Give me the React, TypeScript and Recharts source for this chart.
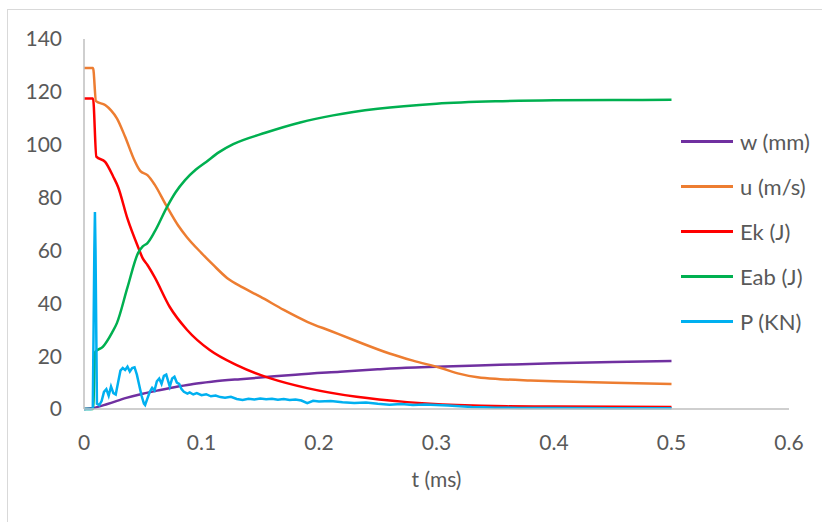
import React from 'react';
import { LineChart, Line, XAxis, YAxis } from 'recharts';

// [t (ms), value]
const wSeries: [number, number][] = [
  [0, 0], [0.008, 0.4], [0.02, 1.9], [0.036, 4.2], [0.05, 5.8], [0.065, 7.2], [0.08, 8.5],
  [0.093, 9.5], [0.11, 10.4], [0.133, 11.3], [0.15, 11.9], [0.18, 13], [0.218, 14.1],
  [0.25, 15], [0.274, 15.6], [0.3, 16], [0.354, 16.7], [0.4, 17.3], [0.45, 17.8], [0.5, 18.2],
];

const uSeries: [number, number][] = [
  [0, 129], [0.0077, 129], [0.0102, 116.5], [0.018, 115], [0.023, 113], [0.028, 110],
  [0.035, 103], [0.043, 94], [0.048, 90], [0.054, 88.5], [0.06, 85], [0.07, 77],
  [0.08, 69.5], [0.0876, 65], [0.1, 59], [0.11, 54.5], [0.122, 49.5], [0.135, 46],
  [0.15, 42.5], [0.17, 37.5], [0.19, 33], [0.21, 29.5], [0.23, 26], [0.26, 21],
  [0.28, 18.3], [0.303, 15.6], [0.32, 13.3], [0.335, 12], [0.354, 11.3], [0.38, 10.8],
  [0.4, 10.5], [0.45, 9.9], [0.5, 9.5],
];

const ekSeries: [number, number][] = [
  [0, 117.5], [0.0077, 117.5], [0.0105, 95.5], [0.018, 93.5], [0.025, 87.8], [0.029, 84],
  [0.037, 72], [0.046, 61.3], [0.05, 57], [0.054, 54.5], [0.06, 50], [0.073, 38.6],
  [0.0876, 30], [0.107, 22.3], [0.13, 16.6], [0.15, 12.9], [0.158, 11.7], [0.19, 7.9],
  [0.232, 4.6], [0.275, 2.6], [0.317, 1.5], [0.36, 1], [0.4, 0.9], [0.5, 0.8],
];

const eabSeries: [number, number][] = [
  [0, 0], [0.0077, 0], [0.0095, 21.6], [0.016, 23.5], [0.024, 29], [0.028, 32.5],
  [0.037, 46], [0.046, 59], [0.05, 61.5], [0.054, 62.8], [0.06, 67], [0.0706, 76.4],
  [0.078, 82], [0.086, 86.6], [0.095, 90.5], [0.104, 93.5], [0.115, 97.2], [0.127, 100.2],
  [0.155, 104.6], [0.184, 108.4], [0.212, 111.1], [0.25, 113.6], [0.3, 115.5], [0.35, 116.4],
  [0.4, 116.8], [0.45, 116.9], [0.5, 117],
];

const pSeries: [number, number][] = [
  [0, 0], [0.006, 0], [0.0075, 0.5], [0.0088, 60], [0.0093, 74.5], [0.0098, 60], [0.011, 2],
  [0.013, 1.5], [0.015, 3],
  [0.017, 6.5], [0.019, 7.5], [0.021, 5], [0.023, 8.5], [0.025, 6], [0.027, 5.5],
  [0.029, 10], [0.031, 14.5], [0.033, 15.5], [0.035, 14.8], [0.037, 16], [0.039, 14.2],
  [0.041, 15.5], [0.043, 15.8], [0.045, 13], [0.047, 9], [0.049, 5], [0.051, 2],
  [0.052, 1.5], [0.054, 4], [0.056, 6.5], [0.058, 8], [0.06, 7], [0.062, 10.5],
  [0.064, 11.5], [0.066, 9.5], [0.068, 12.5], [0.07, 13], [0.072, 10], [0.073, 8.5],
  [0.075, 11.5], [0.077, 12.2], [0.079, 10], [0.081, 9.5], [0.083, 7.5], [0.085, 6.5],
  [0.088, 5.8], [0.09, 6.3], [0.093, 5.5], [0.096, 6], [0.1, 5.2], [0.104, 5.6],
  [0.108, 4.8], [0.112, 5.1], [0.116, 4.5], [0.12, 4.3], [0.125, 4.6], [0.13, 3.8],
  [0.135, 3.4], [0.14, 3.9], [0.145, 3.6], [0.15, 4], [0.155, 3.7], [0.16, 3.9],
  [0.165, 3.5], [0.17, 3.8], [0.175, 3.4], [0.18, 3.6], [0.185, 3.2], [0.19, 2.2],
  [0.195, 3.1], [0.2, 2.8], [0.21, 3], [0.22, 2.6], [0.23, 2.3], [0.24, 2.5], [0.25, 2],
  [0.26, 1.6], [0.27, 1.9], [0.28, 1.5], [0.29, 1.7], [0.3, 1.5], [0.31, 1.3], [0.32, 1],
  [0.33, 0.8], [0.34, 0.7], [0.35, 0.5], [0.37, 0.4], [0.4, 0.4], [0.45, 0.3], [0.5, 0.3],
];

const xTicks = [0, 0.1, 0.2, 0.3, 0.4, 0.5, 0.6];
const yTicks = [0, 20, 40, 60, 80, 100, 120, 140];

const seriesNames = ['w (mm)', 'u (m/s)', 'Ek (J)', 'Eab (J)', 'P (KN)'];
const seriesColors = ['#7030A0', '#ED7D31', '#FF0000', '#00B050', '#00B0F0'];
const seriesData = [wSeries, uSeries, ekSeries, eabSeries, pSeries];

const toRows = (s: [number, number][]) => s.map(([t, v]) => ({ t, v }));

const FONT = 'Lato, "Open Sans", sans-serif';
const TEXT = '#595959';

export default function App() {
  return (
    <div style={{ position: 'absolute', left: 0, top: 0, width: 822, height: 522, overflow: 'hidden', background: '#fff' }}>
      <div style={{ position: 'absolute', left: 7, top: 9, width: 900, height: 700, border: '1.5px solid #D9D9D9' }} />
      <div style={{ position: 'absolute', left: 0, top: 0 }}>
        <LineChart width={822} height={522} margin={{ top: 39, right: 33, bottom: 83, left: 0 }}>
          <XAxis
            dataKey="t"
            type="number"
            domain={[0, 0.6]}
            ticks={xTicks}
            interval={0}
            tickFormatter={(v: number) => String(v)}
            axisLine={{ stroke: '#BFBFBF', strokeWidth: 1.5 }}
            tickLine={false}
            tickSize={0}
            tickMargin={26}
            height={30}
            allowDataOverflow
            tick={{ fill: TEXT, fontSize: 21, fontFamily: FONT }}
            label={{ value: 't (ms)', position: 'bottom', offset: 33, fill: TEXT, fontSize: 21, fontFamily: FONT }}
          />
          <YAxis
            type="number"
            domain={[0, 140]}
            ticks={yTicks}
            interval={0}
            width={84}
            axisLine={{ stroke: '#BFBFBF', strokeWidth: 1.5 }}
            tickLine={false}
            tickSize={0}
            tickMargin={22}
            tick={{ fill: TEXT, fontSize: 21, fontFamily: FONT }}
          />
          {seriesData.map((s, i) => (
            <Line
              key={seriesNames[i]}
              data={toRows(s)}
              dataKey="v"
              name={seriesNames[i]}
              stroke={seriesColors[i]}
              strokeWidth={2.5}
              dot={false}
              type={i === 4 ? 'linear' : 'monotone'}
              isAnimationActive={false}
            />
          ))}
        </LineChart>
      </div>
      <div style={{ position: 'absolute', left: 681, top: 119, fontFamily: FONT, fontSize: 22, color: TEXT }}>
        {seriesNames.map((n, i) => (
          <div key={n} style={{ display: 'flex', alignItems: 'center', height: 45 }}>
            <div style={{ width: 52, height: 3, background: seriesColors[i], marginRight: 7 }} />
            <span style={{ whiteSpace: 'nowrap' }}>{n}</span>
          </div>
        ))}
      </div>
    </div>
  );
}
